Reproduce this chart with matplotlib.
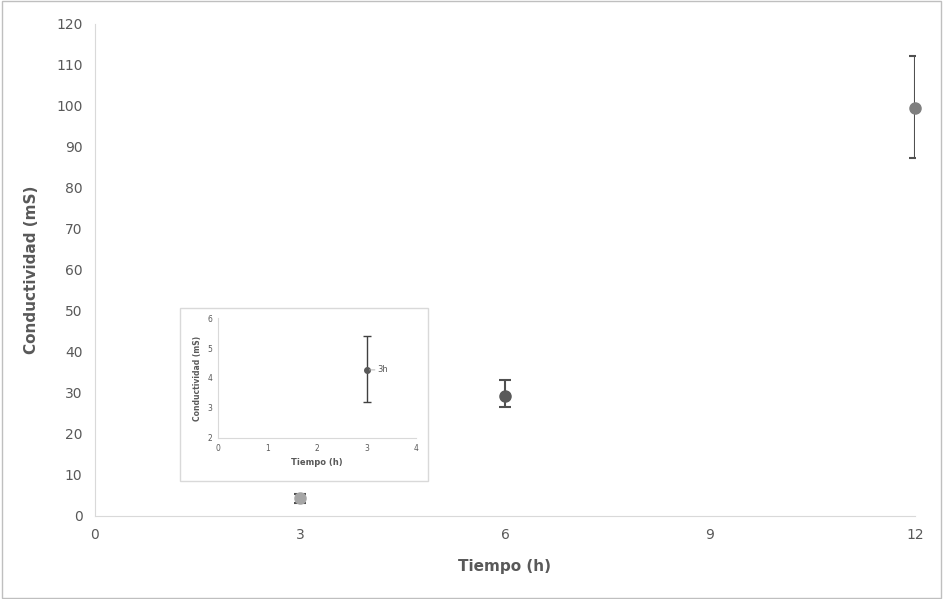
import matplotlib.pyplot as plt
from matplotlib.patches import Rectangle

tiempo = [3, 6, 12]
conductividad = [4.3, 29.3, 99.5]
err_low = [1.1, 2.7, 12.3]
err_high = [1.1, 3.9, 12.8]
colores = ['#a6a6a6', '#595959', '#7f7f7f']

inset_x = [3]
inset_y = [4.27]
inset_err_low = [1.07]
inset_err_high = [1.13]

gris = '#595959'
eje = '#d9d9d9'

fig = plt.figure(figsize=(9.43, 5.99), dpi=100)
fig.patches.append(Rectangle((0.002, 0.002), 0.996, 0.996, transform=fig.transFigure,
                             fill=False, edgecolor='#bfbfbf', lw=1))

ax = fig.add_axes([0.1007, 0.1386, 0.8696, 0.8214])
for x, y, lo, hi, c in zip(tiempo, conductividad, err_low, err_high, colores):
    ax.errorbar([x], [y], yerr=[[lo], [hi]], fmt='none', ecolor='#505050',
                elinewidth=1.5, capsize=4, capthick=1.5)
    ax.plot([x], [y], 'o', color=c, markersize=8, clip_on=False, zorder=4)
ax.set_xlim(0, 12)
ax.set_ylim(0, 120)
ax.set_xticks([0, 3, 6, 9, 12])
ax.set_yticks(range(0, 121, 10))
for s in ['top', 'right']:
    ax.spines[s].set_visible(False)
for s in ['left', 'bottom']:
    ax.spines[s].set_color(eje)
ax.tick_params(length=0, labelsize=10, colors=gris, pad=9)
ax.set_xlabel('Tiempo (h)', fontsize=11, fontweight='bold', color=gris, labelpad=12)
ax.set_ylabel('Conductividad (mS)', fontsize=11, fontweight='bold', color=gris, labelpad=12)

# inset panel
fig.patches.append(Rectangle((0.191, 0.197), 0.263, 0.289, transform=fig.transFigure,
                             facecolor='white', edgecolor='#d9d9d9', lw=1, zorder=5))
axi = fig.add_axes([0.2312, 0.2688, 0.21, 0.2003], zorder=6)
axi.errorbar(inset_x, inset_y, yerr=[inset_err_low, inset_err_high], fmt='o',
             color='#595959', ecolor='#404040', elinewidth=1, capsize=3, capthick=1,
             markersize=4)
axi.annotate('3h', (inset_x[0], inset_y[0]), xytext=(8, 0), textcoords='offset points',
             fontsize=6, color=gris, va='center',
             arrowprops=dict(arrowstyle='-', color='#a6a6a6', lw=0.6, shrinkA=0, shrinkB=2))
axi.set_xlim(0, 4)
axi.set_ylim(2, 6)
axi.set_xticks(range(0, 5))
axi.set_yticks(range(2, 7))
for s in ['top', 'right']:
    axi.spines[s].set_visible(False)
for s in ['left', 'bottom']:
    axi.spines[s].set_color(eje)
axi.tick_params(length=0, labelsize=5.5, colors=gris, pad=4)
axi.set_xlabel('Tiempo (h)', fontsize=6, fontweight='bold', color=gris, labelpad=4)
axi.set_ylabel('Conductividad (mS)', fontsize=5.5, fontweight='bold', color=gris, labelpad=4)

fig.savefig('out.png', dpi=100)
